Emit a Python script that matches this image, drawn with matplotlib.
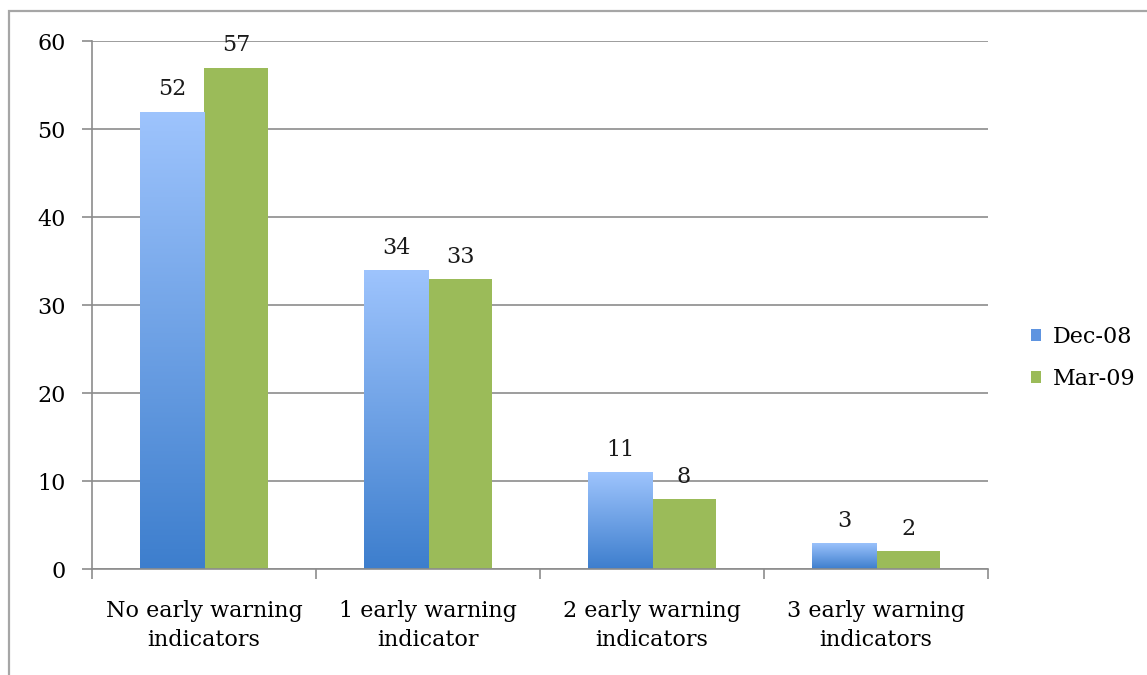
import matplotlib.pyplot as plt
import numpy as np
from matplotlib.colors import LinearSegmentedColormap
from matplotlib.patches import Rectangle

categories = ["No early warning\nindicators", "1 early warning\nindicator",
              "2 early warning\nindicators", "3 early warning\nindicators"]
dec08 = [52, 34, 11, 3]
mar09 = [57, 33, 8, 2]
series_names = ["Dec-08", "Mar-09"]

plt.rcParams['font.family'] = ['DejaVu Serif']
fig = plt.figure(figsize=(11.47, 6.75), dpi=100)
ax = fig.add_axes([0.0802, 0.157, 0.7812, 0.782])

# outer chart frame (cropped at right/bottom in the original)
fig.patches.append(Rectangle((9 / 1147, -0.1), 1.2, 1 - 11 / 675 + 0.1,
                             transform=fig.transFigure, fill=False,
                             edgecolor='#a6a6a6', linewidth=1.6, zorder=0))

x = np.arange(len(categories))
w = 0.286
blue_cmap = LinearSegmentedColormap.from_list("blue", ["#3d7ecd", "#9ec4fd"])
b1 = ax.bar(x - w / 2, dec08, w, color='#4f81bd', label=series_names[0], zorder=2)
b2 = ax.bar(x + w / 2, mar09, w, color='#9bbb59', label=series_names[1], zorder=2)

# vertical gradient on the blue bars
grad = np.linspace(0, 1, 256).reshape(-1, 1)
for p in b1.patches:
    x0, y0 = p.get_x(), p.get_y()
    im = ax.imshow(grad, cmap=blue_cmap, origin='lower', aspect='auto',
                   extent=[x0, x0 + p.get_width(), y0, y0 + p.get_height()], zorder=2.1)
    im.set_clip_path(p)

for bars in (b1, b2):
    for p in bars.patches:
        ax.annotate(f"{int(p.get_height())}", (p.get_x() + p.get_width() / 2, p.get_height()),
                    xytext=(0, 8), textcoords='offset points', ha='center', va='bottom',
                    fontsize=16, color='#1a1a1a', zorder=3)

ax.set_xlim(-0.5, 3.5)
ax.set_ylim(0, 60)
ax.set_yticks(range(0, 61, 10))
ax.yaxis.grid(True, color='#8c8c8c', linewidth=1.2, zorder=0)
ax.set_axisbelow(True)

ax.set_xticks(np.arange(-0.5, 3.6, 1))
ax.set_xticklabels([])
ax.set_xticks(x, minor=True)
ax.set_xticklabels(categories, minor=True, fontsize=16, linespacing=1.45)
ax.tick_params(axis='x', which='minor', length=0, pad=22)
ax.tick_params(axis='x', which='major', length=7, color='#8c8c8c', width=1.2)
ax.tick_params(axis='y', length=7, color='#8c8c8c', width=1.2, labelsize=16, pad=12)

for s in ('top', 'right'):
    ax.spines[s].set_visible(False)
for s in ('left', 'bottom'):
    ax.spines[s].set_color('#8c8c8c')
    ax.spines[s].set_linewidth(1.2)

leg = ax.legend(loc='center left', bbox_to_anchor=(1.026, 0.4), frameon=False,
                fontsize=16, handlelength=0.45, handleheight=0.45, handletextpad=0.5,
                labelspacing=0.9, borderpad=0.4)
for h in leg.legend_handles:
    h.set_edgecolor('none')
leg.legend_handles[0].set_facecolor('#5e94e0')

fig.savefig("out.png", dpi=100)
